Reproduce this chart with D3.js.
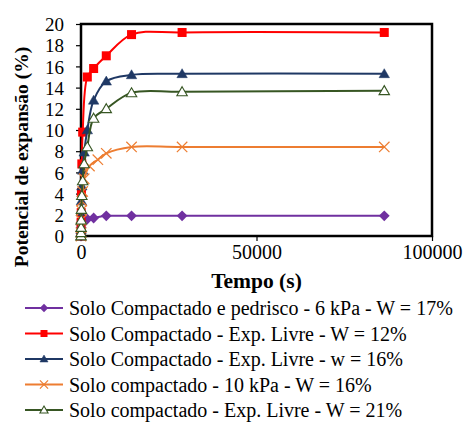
<!DOCTYPE html>
<html><head><meta charset="utf-8">
<script src="https://cdn.jsdelivr.net/npm/d3@7"></script>
<style>body{margin:0;background:#fff}svg{display:block}svg text{font-family:"Liberation Serif","DejaVu Serif",serif}</style>
</head><body>
<script>
const seriesNames = [
  "Solo Compactado e pedrisco - 6 kPa - W = 17%",
  "Solo Compactado - Exp. Livre - W = 12%",
  "Solo Compactado - Exp. Livre - w = 16%",
  "Solo compactado - 10 kPa - W = 16%",
  "Solo compactado - Exp. Livre - W = 21%"
];
const timesPurple = [0, 15, 30, 60, 120, 240, 480, 900, 1800, 3600, 7200, 14400, 28800, 86400];
const valuesPurple = [0, 0.4, 0.8, 1.1, 1.3, 1.5, 1.6, 1.6, 1.6, 1.7, 1.9, 1.9, 1.9, 1.9];
const timesRed = [0, 15, 30, 60, 120, 240, 480, 1800, 3600, 7200, 14400, 28800, 86400];
const valuesRed = [0, 0.4, 1.3, 2.2, 4.1, 6.8, 9.8, 15.0, 15.8, 17.0, 19.0, 19.2, 19.2];
const timesBlue = [0, 15, 30, 60, 120, 240, 480, 900, 1800, 3600, 7200, 14400, 28800, 86400];
const valuesBlue = [0, 0.6, 1.4, 2.3, 3.3, 4.7, 6.2, 7.9, 10.0, 12.8, 14.6, 15.2, 15.3, 15.3];
const timesOrange = [0, 15, 30, 60, 120, 240, 480, 900, 2400, 4800, 7200, 14400, 28800, 86400];
const valuesOrange = [0, 0.3, 0.8, 1.5, 2.4, 3.3, 4.2, 5.4, 6.6, 7.2, 7.8, 8.4, 8.4, 8.4];
const timesGreen = [0, 15, 30, 60, 120, 240, 480, 900, 1800, 3600, 7200, 14400, 28800, 86400];
const valuesGreen = [0, 0.3, 0.8, 1.5, 2.5, 3.8, 5.2, 6.8, 8.4, 11.1, 12.0, 13.5, 13.6, 13.7];
const xTicks = [0, 50000, 100000];
const yTicks = [0, 2, 4, 6, 8, 10, 12, 14, 16, 18, 20];

const series = [
  {name: seriesNames[0], t: timesPurple, v: valuesPurple, color: "#7030A0", marker: "diamond"},
  {name: seriesNames[1], t: timesRed, v: valuesRed, color: "#FF0000", marker: "square"},
  {name: seriesNames[2], t: timesBlue, v: valuesBlue, color: "#1F3864", marker: "triangle"},
  {name: seriesNames[3], t: timesOrange, v: valuesOrange, color: "#ED7D31", marker: "x"},
  {name: seriesNames[4], t: timesGreen, v: valuesGreen, color: "#375623", marker: "opentri"}
];

const W = 474, H = 423;
const m = {left: 81, right: 42, top: 24, bottom: 187};
const svg = d3.select("body").append("svg").attr("width", W).attr("height", H);
const x = d3.scaleLinear().domain([0, 100000]).range([m.left, W - m.right]);
const y = d3.scaleLinear().domain([0, 20]).range([H - m.bottom, m.top]);

// axes
const gx = svg.append("g").attr("transform", `translate(0,${H - m.bottom})`)
  .call(d3.axisBottom(x).tickValues(xTicks).tickFormat(d3.format("d")).tickSize(5).tickPadding(4));
const gy = svg.append("g").attr("transform", `translate(${m.left},0)`)
  .call(d3.axisLeft(y).tickValues(yTicks).tickSize(5).tickPadding(12));
[gx, gy].forEach(g => {
  g.attr("font-family", null);
  g.select(".domain").remove();
  g.selectAll(".tick line").attr("stroke", "#000").attr("stroke-width", 1.2);
  g.selectAll("text").attr("fill", "#000");
});
gx.attr("font-size", null).selectAll("text").style("font-size", "20px");
gy.attr("font-size", null).selectAll("text").style("font-size", "19px").attr("dy", "0.35em");

// frame
svg.append("rect").attr("x", m.left).attr("y", m.top)
  .attr("width", W - m.right - m.left).attr("height", H - m.bottom - m.top)
  .attr("fill", "none").attr("stroke", "#000").attr("stroke-width", 2.5);

// markers
function drawMarker(g, type, color, s) {
  if (type === "diamond") {
    g.append("path").attr("d", `M0,${-s*0.6}L${s*0.6},0L0,${s*0.6}L${-s*0.6},0Z`).attr("fill", color);
  } else if (type === "square") {
    g.append("rect").attr("x", -s/2).attr("y", -s/2).attr("width", s).attr("height", s).attr("fill", color);
  } else if (type === "triangle" || type === "opentri") {
    const h = s * 0.95;
    g.append("path").attr("d", `M0,${-h*0.6}L${s*0.58},${h*0.45}L${-s*0.58},${h*0.45}Z`)
      .attr("fill", type === "triangle" ? color : "#fff").attr("stroke", color).attr("stroke-width", type === "triangle" ? 0.5 : 1.1);
  } else if (type === "x") {
    const r = s * 0.58;
    g.append("path").attr("d", `M${-r},${-r}L${r},${r}M${-r},${r}L${r},${-r}`).attr("stroke", color).attr("stroke-width", 1.2);
  }
}

const line = d3.line().x(d => x(d[0])).y(d => y(d[1])).curve(d3.curveCatmullRom.alpha(0.5));
series.forEach(s => {
  const pts = s.t.map((t, i) => [t, s.v[i]]);
  svg.append("path").datum(pts).attr("d", line).attr("fill", "none")
    .attr("stroke", s.color).attr("stroke-width", 2);
  pts.forEach(p => {
    const g = svg.append("g").attr("transform", `translate(${x(p[0])},${y(p[1])})`);
    drawMarker(g, s.marker, s.color, 9);
  });
});

// axis titles
svg.append("text").attr("x", (m.left + W - m.right) / 2).attr("y", 288)
  .attr("text-anchor", "middle").attr("font-weight", "bold")
  .style("font-size", "21.5px").text("Tempo (s)");
svg.append("text").attr("transform", `translate(28,157) rotate(-90)`)
  .attr("text-anchor", "middle").attr("font-weight", "bold")
  .style("font-size", "19.5px").text("Potencial de expansão (%)");

// legend
const leg = svg.append("g");
series.forEach((s, i) => {
  const yy = 308 + i * 25.5;
  leg.append("line").attr("x1", 25).attr("x2", 63).attr("y1", yy).attr("y2", yy)
    .attr("stroke", s.color).attr("stroke-width", 2);
  const g = leg.append("g").attr("transform", `translate(44,${yy})`);
  drawMarker(g, s.marker, s.color, 7);
  leg.append("text").attr("x", 69).attr("y", yy).attr("dy", "0.35em")
    .style("font-size", "20px").attr("fill", "#000").text(s.name);
});
</script>
</body></html>
